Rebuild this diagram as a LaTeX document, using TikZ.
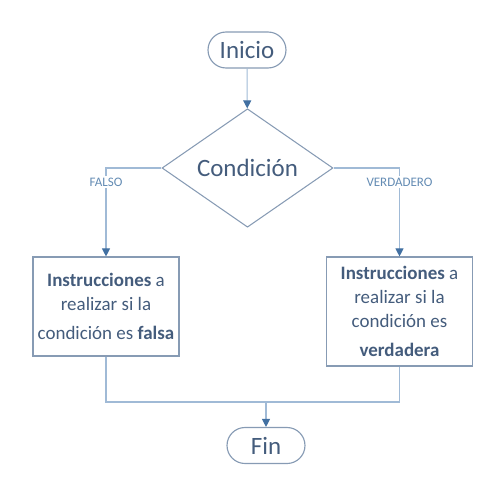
\documentclass[tikz,border=0pt]{standalone}
\usepackage{fontspec}
\setmainfont{Carlito}
\usetikzlibrary{shapes.geometric,arrows.meta,positioning}
\definecolor{txtblue}{RGB}{68,92,124}
\definecolor{lblblue}{RGB}{100,140,180}
\definecolor{edgeblue}{RGB}{135,155,180}
\definecolor{wireblue}{RGB}{160,186,214}
\definecolor{tipblue}{RGB}{66,112,162}
\tikzset{
  terminal/.style={draw=edgeblue, line width=0.65pt, rounded corners=0.36cm, minimum width=1.56cm, minimum height=0.72cm, inner sep=0pt, text=txtblue, font=\fontsize{14.2}{17}\selectfont},
  decision/.style={draw=edgeblue, line width=0.6pt, diamond, minimum width=3.42cm, minimum height=2.16cm, inner sep=0pt, text=txtblue, font=\fontsize{14.2}{17}\selectfont},
  process/.style={draw=edgeblue, line width=0.65pt, minimum width=2.92cm, align=center, inner sep=0pt, text=txtblue, font=\fontsize{10.8}{13.6}\selectfont},
  flow/.style={draw=wireblue, line width=0.6pt},
  arrow/.style={flow, -{Triangle[length=0.16cm, width=0.16cm, color=tipblue]}},
  branch/.style={fill=white, inner sep=1pt, text=lblblue, font=\fontsize{7.4}{9}\selectfont}
}
\begin{document}
\begin{tikzpicture}[x=0.02cm, y=-0.02cm]
  \useasboundingbox (0,0) rectangle (500,500);
  \node[terminal] (inicio) at (247,50) {Inicio};
  \node[decision] (cond) at (247.5,168) {Condición};
  \node[process, minimum height=1.98cm] (falsa) at (106,306.5)
    {\textbf{Instrucciones} a\\ realizar si la\\[1mm] condición es \textbf{falsa}};
  \node[process, minimum height=2.18cm] (verdad) at (399.5,311.5)
    {\textbf{Instrucciones} a\\ realizar si la\\ condición es\\[1mm] \textbf{verdadera}};
  \node[terminal] (fin) at (266,445.5) {Fin};
  \coordinate (merge) at (266,402);
  \draw[arrow] (inicio) -- (cond);
  \draw[arrow] (cond.west) -| node[branch, pos=0.58] {FALSO} (falsa.north);
  \draw[arrow] (cond.east) -| node[branch, pos=0.58] {VERDADERO} (verdad.north);
  \draw[flow] (falsa.south) |- (merge) -| (verdad.south);
  \draw[arrow] (merge) -- (fin);
\end{tikzpicture}
\end{document}
